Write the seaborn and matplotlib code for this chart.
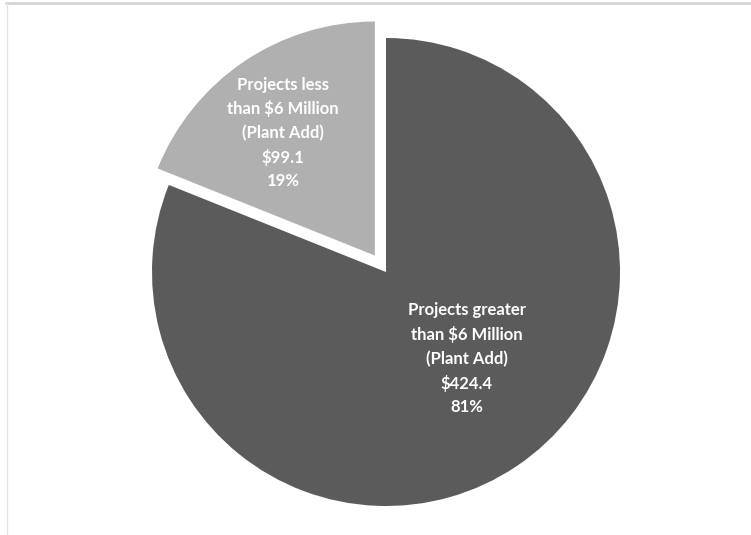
import matplotlib
matplotlib.use("Agg")
import matplotlib.pyplot as plt
import seaborn as sns
from matplotlib.lines import Line2D

categories = ["Projects less\nthan $6 Million\n(Plant Add)", "Projects greater\nthan $6 Million\n(Plant Add)"]
values = [99.1, 424.4]
value_labels = ["$99.1", "$424.4"]
pct_labels = ["19%", "81%"]

sns.set_theme(style="white")
plt.rcParams['font.family'] = ['Lato', 'DejaVu Sans']

colors = ["#b0b0b0", "#5b5b5b"]

W, H = 751, 535
fig = plt.figure(figsize=(W / 100, H / 100), dpi=100)
ax = fig.add_axes([0, 0, 1, 1])

cx, cy, r = 386, 272, 234
wedges, _ = ax.pie(values, colors=colors, startangle=90, counterclock=True,
                   explode=[0.085, 0], radius=1.0,
                   wedgeprops=dict(linewidth=0))
ax.set_xlim(-cx / r, (W - cx) / r)
ax.set_ylim(-(H - cy) / r, cy / r)
ax.set_aspect('equal')
ax.axis('off')

label_pos = [(-0.44, 0.595), (0.345, -0.37)]
for (x, y), cat, v, p in zip(label_pos, categories, value_labels, pct_labels):
    ax.text(x, y, f"{cat}\n{v}\n{p}", ha='center', va='center', color='white',
            fontsize=12, fontweight='bold', linespacing=1.55)

fig.add_artist(Line2D([6 / W, 1], [532.5 / H, 532.5 / H], transform=fig.transFigure,
                      color="#d4d4d4", linewidth=2))
fig.add_artist(Line2D([7 / W, 7 / W], [0, 532 / H], transform=fig.transFigure,
                      color="#e4e4e4", linewidth=1))

fig.savefig("out.png", dpi=100)
